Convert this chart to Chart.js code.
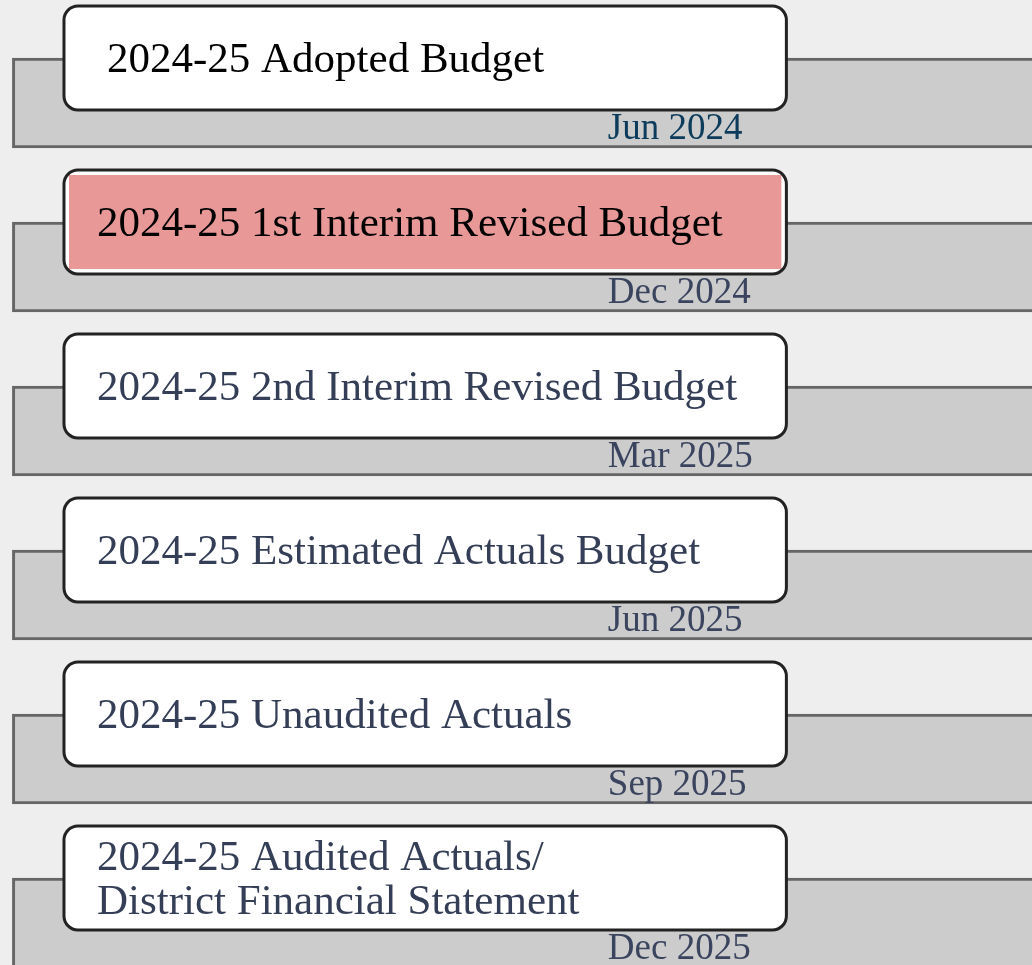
<!DOCTYPE html>
<html>
<head>
<meta charset="utf-8">
<script src="https://cdn.jsdelivr.net/npm/chart.js@4/dist/chart.umd.min.js"></script>
<style>
  html, body { margin: 0; padding: 0; background: #eeeeee; overflow: hidden; }
  #wrap { position: relative; width: 1032px; height: 1010px; }
</style>
</head>
<body>
<div id="wrap"><canvas id="timeline"></canvas></div>
<script>
// Étapes du budget - données
var stages = [
    '2024-25 Adopted Budget',
    '2024-25 1st Interim Revised Budget',
    '2024-25 2nd Interim Revised Budget',
    '2024-25 Estimated Actuals Budget',
    '2024-25 Unaudited Actuals',
    ['2024-25 Audited Actuals/', 'District Financial Statement']
];
var dates = ['Jun 2024', 'Dec 2024', 'Mar 2025', 'Jun 2025', 'Sep 2025', 'Dec 2025'];
var currentStage = 1;

// bande grise et boite, en % de la largeur
var band = [1.2, 100];
var box = [6.2, 76.2];
var dateAt = 58.9;

var titleColors = ['#000000', '#000000', '#343e56', '#343e56', '#343e56', '#343e56'];
var titleIndent = [43, 33, 33, 33, 33, 33];
var dateColors = ['#0c3b5b', '#3a445e', '#3a445e', '#3a445e', '#3a445e', '#3a445e'];

// Plugin - boites et textes
var stageBoxes = {
    id: 'stageBoxes',
    afterDatasetsDraw: function (chart) {
        var ctx = chart.ctx;
        var xs = chart.scales.x;
        var meta = chart.getDatasetMeta(0);
        var x0 = xs.getPixelForValue(box[0]);
        var x1 = xs.getPixelForValue(box[1]);

        meta.data.forEach(function (bar, i) {
            var top = bar.y - bar.height / 2;
            var bottom = bar.y + bar.height / 2;
            var y0 = top - 52;
            var h = 104;

            ctx.save();
            ctx.beginPath();
            ctx.roundRect(x0, y0, x1 - x0, h, 14);
            ctx.fillStyle = '#ffffff';
            ctx.fill();
            if (i === currentStage) {
                ctx.fillStyle = '#e99898';
                ctx.fillRect(x0 + 5, y0 + 5, x1 - x0 - 10, h - 10);
            }
            ctx.lineWidth = 3;
            ctx.strokeStyle = '#222222';
            ctx.stroke();

            // titre
            var lines = Array.isArray(stages[i]) ? stages[i] : [stages[i]];
            ctx.font = '43px "Liberation Serif", "Times New Roman", serif';
            ctx.fillStyle = titleColors[i];
            ctx.textAlign = 'left';
            ctx.textBaseline = 'alphabetic';
            lines.forEach(function (line, k) {
                var by = top + 14 + (k - (lines.length - 1) / 2) * 44;
                ctx.fillText(line, x0 + titleIndent[i], by);
            });

            // date
            ctx.font = '37px "Liberation Serif", "Times New Roman", serif';
            ctx.fillStyle = dateColors[i];
            ctx.fillText(dates[i], xs.getPixelForValue(dateAt), bottom - 9);
            ctx.restore();
        });
    }
};

var ctx = document.getElementById('timeline').getContext('2d');
var chart = new Chart(ctx, {
    type: 'bar',
    data: {
        labels: dates,
        datasets: [{
            data: stages.map(function () { return band; }),
            backgroundColor: '#cccccc',
            borderColor: '#666666',
            borderWidth: { top: 3, left: 3, bottom: 3, right: 0 },
            borderSkipped: false,
            barThickness: 90
        }]
    },
    options: {
        indexAxis: 'y',
        responsive: true,
        maintainAspectRatio: false,
        animation: false,
        layout: { padding: { top: 21, bottom: 5, left: 0, right: 0 } },
        scales: {
            x: { type: 'linear', min: 0, max: 100, display: false },
            y: { type: 'category', display: false }
        },
        plugins: {
            legend: { display: false },
            tooltip: { enabled: false }
        }
    },
    plugins: [stageBoxes]
});
</script>
</body>
</html>
